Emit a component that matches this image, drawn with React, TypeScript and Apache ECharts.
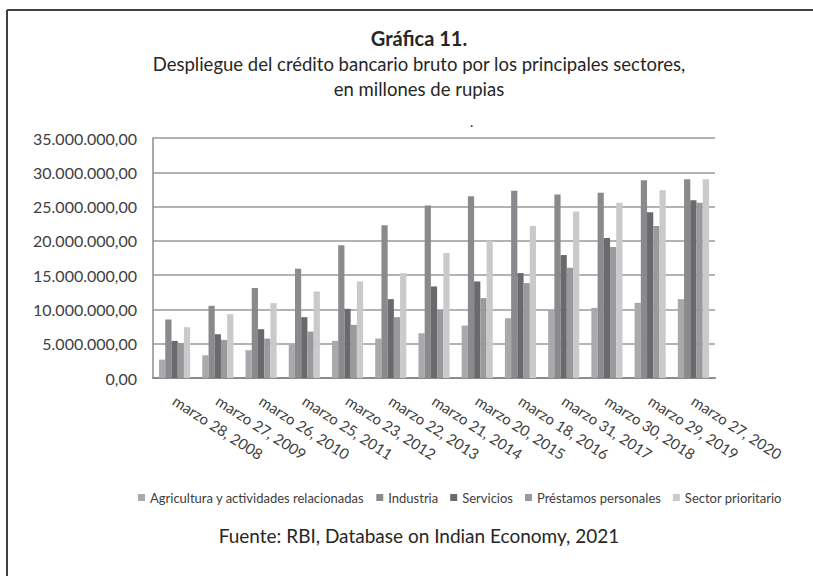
import React, { useEffect, useRef } from "react";
import * as echarts from "echarts";

const categories = [
  "marzo 28, 2008",
  "marzo 27, 2009",
  "marzo 26, 2010",
  "marzo 25, 2011",
  "marzo 23, 2012",
  "marzo 22, 2013",
  "marzo 21, 2014",
  "marzo 20, 2015",
  "marzo 18, 2016",
  "marzo 31, 2017",
  "marzo 30, 2018",
  "marzo 29, 2019",
  "marzo 27, 2020",
];

const agricultura = [2680000, 3310000, 4050000, 4920000, 5410000, 5750000, 6530000, 7650000, 8720000, 9890000, 10230000, 10960000, 11500000];
const industria = [8530000, 10530000, 13110000, 15940000, 19350000, 22270000, 25150000, 26500000, 27290000, 26750000, 27000000, 28850000, 29000000];
const servicios = [5410000, 6380000, 7120000, 8870000, 10090000, 11500000, 13350000, 14080000, 15300000, 17930000, 20420000, 24170000, 25930000];
const prestamos = [5120000, 5560000, 5750000, 6770000, 7750000, 8870000, 9940000, 11650000, 13840000, 16080000, 19100000, 22170000, 25540000];
const prioritario = [7410000, 9310000, 10920000, 12620000, 14080000, 15300000, 18230000, 20030000, 22170000, 24270000, 25540000, 27390000, 29000000];

const seriesNames = [
  "Agricultura y actividades relacionadas",
  "Industria",
  "Servicios",
  "Préstamos personales",
  "Sector prioritario",
];
const seriesData = [agricultura, industria, servicios, prestamos, prioritario];
const seriesColors = ["#a9a9ac", "#8a8a8e", "#6a6a6c", "#9a9a9d", "#cacacc"];

const titleText = "Gráfica 11.";
const subtitleLines = [
  "Despliegue del crédito bancario bruto por los principales sectores,",
  "en millones de rupias",
];
const sourceText = "Fuente: RBI, Database on Indian Economy, 2021";

const FONT = "Lato, 'Noto Sans', sans-serif";
const TEXT = "#262626";

function fmt(v: number): string {
  const s = Math.round(v).toString().replace(/\B(?=(\d{3})+(?!\d))/g, ".");
  return s + ",00";
}

function centeredText(text: string, y: number, size: number, bold = false) {
  return {
    type: "text",
    x: 419,
    y,
    style: {
      text,
      fontFamily: FONT,
      fontSize: size,
      fontWeight: bold ? "bold" : "normal",
      fill: TEXT,
      textAlign: "center",
      textVerticalAlign: "middle",
    },
  };
}

export default function App() {
  const ref = useRef<HTMLDivElement>(null);
  useEffect(() => {
    if (!ref.current) return;
    const chart = echarts.init(ref.current, null, { renderer: "svg" });
    chart.setOption({
      animation: false,
      backgroundColor: "#ffffff",
      textStyle: { fontFamily: FONT },
      graphic: [
        { type: "line", shape: { x1: 7, y1: 10, x2: 813, y2: 10 }, style: { stroke: "#404040", lineWidth: 2 } },
        { type: "line", shape: { x1: 7, y1: 10, x2: 7, y2: 576 }, style: { stroke: "#404040", lineWidth: 2 } },
        centeredText(titleText, 38, 20, true),
        centeredText(subtitleLines[0], 64, 18.5),
        centeredText(subtitleLines[1], 89, 18.5),
        centeredText(sourceText, 535, 19),
        { type: "text", x: 470, y: 114, style: { text: ".", fontSize: 14, fontFamily: FONT, fill: TEXT } },
      ],
      legend: {
        data: seriesNames,
        left: 133,
        top: 486,
        itemWidth: 7,
        itemHeight: 7,
        itemGap: 12,
        icon: "rect",
        textStyle: { fontFamily: FONT, fontSize: 13, color: "#404040" },
      },
      grid: { left: 153, right: 98, top: 138, bottom: 198, containLabel: false },
      xAxis: {
        type: "category",
        data: categories,
        axisLine: { show: true, lineStyle: { color: "#8c8c8c", width: 2 } },
        axisTick: { show: false },
        axisLabel: {
          rotate: -33,
          interval: 0,
          margin: 21,
          fontFamily: FONT,
          fontSize: 15,
          color: "#404040",
        },
      },
      yAxis: {
        type: "value",
        min: 0,
        max: 35000000,
        interval: 5000000,
        axisLine: { show: true, lineStyle: { color: "#8c8c8c", width: 1.5 } },
        axisTick: { show: false },
        splitLine: { show: true, lineStyle: { color: "#9a9a9a", width: 1.5 } },
        axisLabel: {
          formatter: (v: number) => fmt(v),
          margin: 16,
          fontFamily: FONT,
          fontSize: 16,
          color: "#404040",
        },
      },
      series: seriesNames.map((name, i) => ({
        name,
        type: "bar",
        data: seriesData[i],
        barGap: "0%",
        barCategoryGap: "28%",
        itemStyle: { color: seriesColors[i] },
      })),
    });
    return () => chart.dispose();
  }, []);
  return (
    <div
      ref={ref}
      style={{ position: "fixed", left: 0, top: 0, width: 813, height: 576 }}
    />
  );
}
